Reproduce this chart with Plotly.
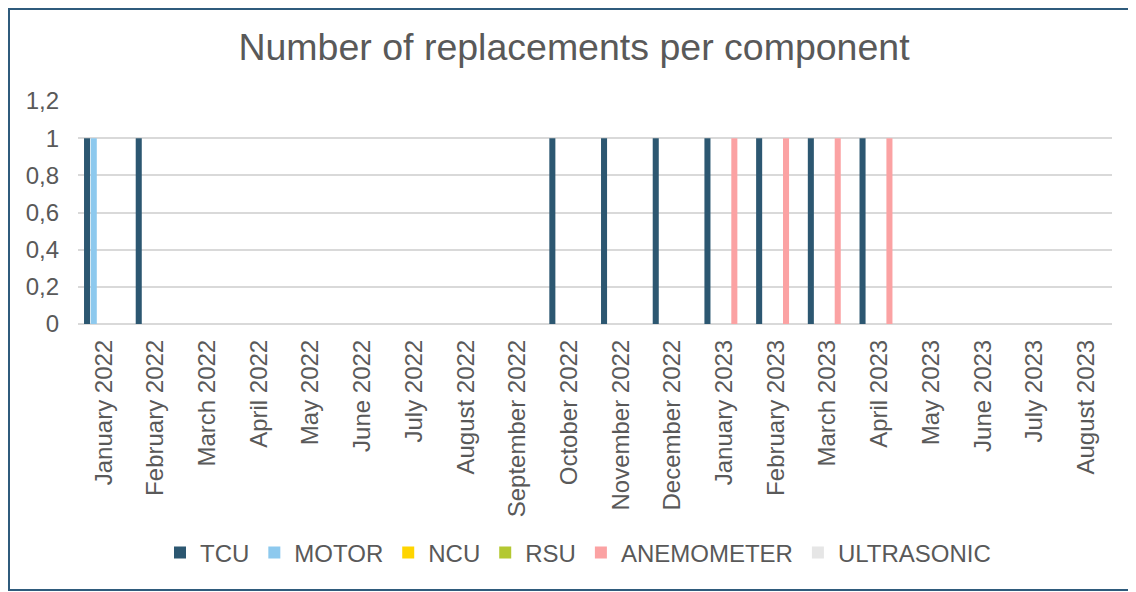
import plotly.graph_objects as go

months = ["January 2022", "February 2022", "March 2022", "April 2022", "May 2022",
          "June 2022", "July 2022", "August 2022", "September 2022", "October 2022",
          "November 2022", "December 2022", "January 2023", "February 2023", "March 2023",
          "April 2023", "May 2023", "June 2023", "July 2023", "August 2023"]

tcu        = [1, 1, 0, 0, 0, 0, 0, 0, 0, 1, 1, 1, 1, 1, 1, 1, 0, 0, 0, 0]
motor      = [1, 0, 0, 0, 0, 0, 0, 0, 0, 0, 0, 0, 0, 0, 0, 0, 0, 0, 0, 0]
ncu        = [0, 0, 0, 0, 0, 0, 0, 0, 0, 0, 0, 0, 0, 0, 0, 0, 0, 0, 0, 0]
rsu        = [0, 0, 0, 0, 0, 0, 0, 0, 0, 0, 0, 0, 0, 0, 0, 0, 0, 0, 0, 0]
anemometer = [0, 0, 0, 0, 0, 0, 0, 0, 0, 0, 0, 0, 1, 1, 1, 1, 0, 0, 0, 0]
ultrasonic = [0, 0, 0, 0, 0, 0, 0, 0, 0, 0, 0, 0, 0, 0, 0, 0, 0, 0, 0, 0]

series = [
    ("TCU", tcu, "#2C5771"),
    ("MOTOR", motor, "#8DC9EE"),
    ("NCU", ncu, "#FFD500"),
    ("RSU", rsu, "#B4C832"),
    ("ANEMOMETER", anemometer, "#FBA2A3"),
    ("ULTRASONIC", ultrasonic, "#E6E6E6"),
]

FONT = "Liberation Sans, Arial, sans-serif"
GREY = "#595959"

fig = go.Figure()
for name, vals, col in series:
    fig.add_trace(go.Bar(x=months, y=vals, name=name,
                         marker=dict(color=col, line=dict(width=0))))

# page body has an 8px margin; figure is sized to fit inside the window
W, H = 1128, 584
L, R, T, B = 70, 24, 93, 268
pw, ph = W - L - R, H - T - B

fig.update_layout(
    width=W, height=H,
    margin=dict(l=L, r=R, t=T, b=B, autoexpand=False),
    paper_bgcolor="white", plot_bgcolor="white",
    barmode="group", bargap=0.22, bargroupgap=0.1,
    separators=", ",
    font=dict(family=FONT, color=GREY, size=24),
    title=dict(text="Number of replacements per component",
               font=dict(family=FONT, size=37.5, color=GREY),
               x=566 / W, xanchor="center", xref="container",
               y=1 - 39 / H, yanchor="middle", yref="container"),
    xaxis=dict(type="category", tickangle=-90, showgrid=False, ticks="",
               tickfont=dict(family=FONT, size=24, color=GREY),
               showline=False, zeroline=False, ticklabelstandoff=10),
    yaxis=dict(range=[0, 1.2], dtick=0.2, tick0=0, showgrid=True,
               gridcolor="#D9D9D9", gridwidth=2, zeroline=True,
               zerolinecolor="#D9D9D9", zerolinewidth=2, ticks="",
               tickfont=dict(family=FONT, size=24, color=GREY),
               ticklabelstandoff=18, showline=False),
    legend=dict(orientation="h", x=(570 - L) / pw, xanchor="center",
                y=(H - B - 545) / ph, yanchor="middle",
                font=dict(family=FONT, size=24, color=GREY),
                itemwidth=30, tracegroupgap=0, traceorder="normal"),
    showlegend=True,
)

# outer chart border (right edge lies just outside the visible window, as in the reference)
fig.add_shape(type="rect", xref="paper", yref="paper",
              x0=(1 - L) / pw, x1=(1132 - L) / pw,
              y0=(H - B - 582) / ph, y1=(H - B - 1) / ph,
              line=dict(color="#2F5B7C", width=2), fillcolor="rgba(0,0,0,0)",
              layer="below")

fig.write_html("out.html")
